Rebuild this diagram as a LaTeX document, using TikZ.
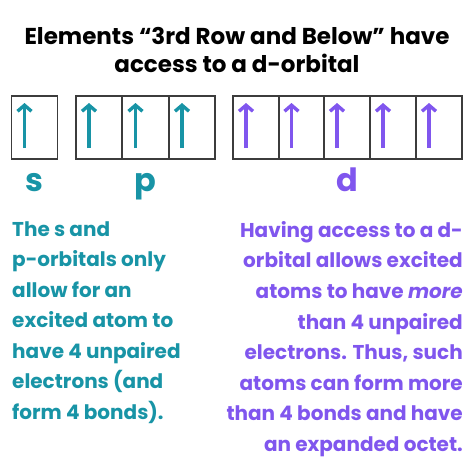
\documentclass[tikz,border=0pt]{standalone}
\usepackage{fontspec}
\setmainfont{Poppins}
\definecolor{orbteal}{RGB}{24,148,166}
\definecolor{orbpurple}{RGB}{128,86,238}
\definecolor{boxgray}{RGB}{60,60,60}
\usetikzlibrary{arrows.meta,positioning}

\begin{document}
\begin{tikzpicture}[x=1pt,y=-1pt,
  orbbox/.style={draw=boxgray, line width=1.2pt, minimum width=46pt, minimum height=63pt, inner sep=0pt, outer sep=0pt},
  spin/.style={line width=3.4pt, -{Straight Barb[length=6pt,width=14pt]}},
  sublabel/.style={font=\fontsize{32}{32}\selectfont\bfseries, anchor=base}]

\useasboundingbox (0,0) rectangle (474,474);

% Title
\node[font=\fontsize{23}{28}\selectfont\bfseries, align=center] (title) at (237,50)
  {Elements “3rd Row and Below” have\\access to a d-orbital};

% s and p boxes
\node[orbbox] (s1) at (34.5,127.5) {};
\foreach \i/\x in {1/99,2/145.5,3/192}
  \node[orbbox] (p\i) at (\x,127.5) {};
% d boxes
\foreach \i/\x in {1/256,2/301.5,3/347,4/393,5/439}
  \node[orbbox] (d\i) at (\x,127.5) {};

% electrons
\foreach \b in {s1,p1,p2,p3}
  \draw[spin, orbteal] ([xshift=-10pt,yshift=11pt]\b.south) -- ([xshift=-10pt,yshift=-7pt]\b.north);
\foreach \b in {d1,d2,d3,d4,d5}
  \draw[spin, orbpurple] ([xshift=-10pt,yshift=11pt]\b.south) -- ([xshift=-10pt,yshift=-7pt]\b.north);

% labels
\node[sublabel, orbteal] (slab) at ([yshift=-32pt]s1.south) {s};
\node[sublabel, orbteal] (plab) at ([yshift=-32pt]p2.south) {p};
\node[sublabel, orbpurple] (dlab) at ([yshift=-32pt]d3.south) {d};

% explanations
\node[font=\fontsize{20}{30.5}\selectfont\bfseries, orbteal, align=left, anchor=north west, inner sep=0pt]
  (stext) at (12,221) {The s and\\p-orbitals only\\allow for an\\excited atom to\\have 4 unpaired\\electrons (and\\form 4 bonds).};
\node[font=\fontsize{20}{30.6}\selectfont\bfseries, orbpurple, align=right, anchor=north east, inner sep=0pt]
  (dtext) at (463,221) {Having access to a d-\\orbital allows excited\\atoms to have \textit{more}\\than 4 unpaired\\electrons. Thus, such\\atoms can form more\\than 4 bonds and have\\an expanded octet.};

\end{tikzpicture}
\end{document}
